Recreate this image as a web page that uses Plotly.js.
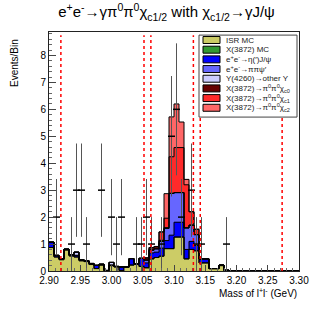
<!DOCTYPE html>
<html>
<head>
<meta charset="utf-8">
<script src="https://cdn.plot.ly/plotly-3.0.1.min.js"></script>
<style>
  body { margin: 0; background: #fff; }
  #plot { width: 333px; height: 320px; }
</style>
</head>
<body>
<div id="plot"></div>
<script>
// binning: 50 bins of 8 MeV from 2.90 to 3.30
var binLo = 2.90;
var binW = 0.008;
var nBins = 50;

// data counts per bin
var dataCounts = [0, 2, 0, 0, 1, 3, 3, 1, 0, 0,
                  3, 0, 2, 1, 2, 0, 0, 1, 1, 2,
                  1, 0, 1, 0, 5, 6, 2, 0, 3, 1,
                  1, 0, 0, 0, 0, 1, 0, 0, 0, 0,
                  0, 0, 0, 0, 0, 0, 0, 0, 0, 0];

// MC components (stacked, bottom to top)
var isrMC = [0.87, 0.52, 0.42, 0.78, 0.56, 0.52, 0.38, 0.35, 0.24, 0.09,
             0.22, 0.02, 0.20, 0.15, 0.02, 0.13, 0.22, 0.25, 0.17, 0.12,
             0.45, 0.50, 0.55, 0.83, 0.83, 1.26, 1.26, 0.45, 0.80, 0.75,
             0.30, 0.30, 0.09, 0.09, 0.20, 0, 0, 0, 0, 0,
             0, 0, 0, 0, 0, 0, 0, 0, 0, 0];
var x3872MC = [0, 0, 0, 0, 0, 0, 0, 0, 0, 0,
               0, 0, 0, 0, 0, 0, 0, 0, 0, 0,
               0, 0, 0, 0, 0, 0, 0, 0, 0, 0,
               0, 0, 0, 0, 0, 0, 0, 0, 0, 0,
               0, 0, 0, 0, 0, 0, 0, 0, 0, 0];
var etaJpsi = [0.20, 0.06, 0.04, 0.03, 0.04, 0.06, 0.04, 0.03, 0.04, 0.12,
               0.03, 0, 0.02, 0.02, 0.13, 0.02, 0.24, 0.02, 0.30, 0.18,
               0.22, 0.20, 0.30, 0.30, 0.50, 0.55, 0.55, 0.35, 0.30, 0.20,
               0.15, 0.15, 0, 0, 0.02, 0.03, 0, 0, 0, 0,
               0, 0, 0, 0, 0, 0, 0, 0, 0, 0];
var pipiPsip = [0, 0, 0, 0, 0, 0, 0, 0, 0, 0,
                0, 0, 0, 0, 0, 0, 0, 0, 0, 0.10,
                0.10, 0.12, 0.25, 0.45, 1.55, 1.10, 1.10, 0.80, 0.60, 0.40,
                0, 0, 0, 0, 0, 0, 0, 0, 0, 0,
                0, 0, 0, 0, 0, 0, 0, 0, 0, 0];
var y4260Other = [0, 0, 0, 0, 0, 0.12, 0, 0, 0, 0,
                  0, 0, 0.10, 0, 0, 0, 0, 0, 0, 0,
                  0, 0, 0, 0, 0, 0, 0, 0, 0, 0,
                  0, 0, 0, 0, 0, 0, 0, 0, 0, 0,
                  0, 0, 0, 0, 0, 0, 0, 0, 0, 0];
var chic0 = [0, 0, 0, 0, 0, 0, 0, 0, 0, 0,
             0, 0, 0, 0, 0, 0, 0, 0, 0, 0.05,
             0.05, 0.04, 0.04, 0.03, 0, 0, 0, 0, 0, 0,
             0, 0, 0, 0, 0, 0, 0, 0, 0, 0,
             0, 0, 0, 0, 0, 0, 0, 0, 0, 0];
var chic1 = [0, 0, 0, 0, 0, 0, 0, 0, 0, 0,
             0, 0, 0, 0, 0, 0, 0, 0, 0, 0.04,
             0.05, 0.05, 0.31, 0.35, 1.36, 1.67, 1.67, 1.60, 0.50, 0.20,
             0, 0, 0, 0, 0, 0, 0, 0, 0, 0,
             0, 0, 0, 0, 0, 0, 0, 0, 0, 0];
var chic2 = [0, 0, 0, 0, 0, 0, 0, 0, 0, 0,
             0, 0, 0, 0, 0, 0, 0, 0, 0, 0,
             0, 0, 0, 0.91, 1.48, 1.62, 0.95, 0.20, 0, 0,
             0, 0, 0, 0, 0, 0, 0, 0, 0, 0,
             0, 0, 0, 0, 0, 0, 0, 0, 0, 0];

var compNames = ['ISR MC', 'X(3872) MC',
  'e<sup>+</sup>e<sup>-</sup>\u2192\u03b7(\u2032)J/\u03c8',
  'e<sup>+</sup>e<sup>-</sup>\u2192\u03c0\u03c0\u03c8\u2032',
  'Y(4260)\u2192other Y',
  'X(3872)\u2192\u03c0<sup>0</sup>\u03c0<sup>0</sup>\u03c7<sub>c0</sub>',
  'X(3872)\u2192\u03c0<sup>0</sup>\u03c0<sup>0</sup>\u03c7<sub>c1</sub>',
  'X(3872)\u2192\u03c0<sup>0</sup>\u03c0<sup>0</sup>\u03c7<sub>c2</sub>'];
var compValues = [isrMC, x3872MC, etaJpsi, pipiPsip, y4260Other, chic0, chic1, chic2];
var compColors = ['#cccc66', '#339933', '#0000ff', '#6666ff', '#ccccff', '#660000', '#ff2a2a', '#ff6666'];

// vertical dotted cut lines (GeV)
var cutLines = [2.919, 3.052, 3.063, 3.131, 3.142, 3.273];
var cutTop = 8.75;

var centers = [], edges = [];
for (var i = 0; i < nBins; i++) centers.push(binLo + binW * (i + 0.5));
for (var i = 0; i <= nBins; i++) edges.push(binLo + binW * i);

var traces = [];
var cum = new Array(nBins).fill(0);
var outlines = [];
compValues.forEach(function (vals, c) {
  traces.push({
    type: 'bar', x: centers, y: vals, width: binW,
    marker: { color: compColors[c], line: { width: 0 } },
    name: compNames[c], hoverinfo: 'skip'
  });
  cum = cum.map(function (v, i) { return v + vals[i]; });
  outlines.push({
    type: 'scatter', mode: 'lines', x: edges, y: cum.concat([cum[nBins - 1]]),
    line: { shape: 'hv', color: '#000', width: 1 }, hoverinfo: 'skip'
  });
});
traces = traces.concat(outlines);

// data points (non-empty bins)
var dx = [], dy = [], de = [];
dataCounts.forEach(function (n, i) {
  if (n > 0) { dx.push(centers[i]); dy.push(n); de.push(Math.sqrt(n)); }
});
traces.push({
  type: 'scatter', mode: 'markers', x: dx, y: dy,
  marker: { symbol: 'line-ew-open', size: 5, color: '#000', line: { width: 1.5, color: '#000' } },
  error_y: { type: 'data', array: de, visible: true, color: '#555', thickness: 1, width: 0 },
  hoverinfo: 'skip'
});

var shapes = cutLines.map(function (m) {
  return { type: 'line', xref: 'x', yref: 'y', x0: m, x1: m, y0: 0, y1: cutTop,
           line: { color: '#ff0000', width: 1.5, dash: 'dot' } };
});

// legend box drawn by hand, ROOT style
var legX0 = 0.60, legX1 = 0.992, legY0 = 0.644, legY1 = 0.987;
var rowTop = 0.9665, rowH = 0.0405;
shapes.push({ type: 'rect', xref: 'paper', yref: 'paper', x0: legX0, x1: legX1, y0: legY0, y1: legY1,
              fillcolor: '#fff', line: { color: '#444', width: 1 }, layer: 'above' });
var annotations = [];
compNames.forEach(function (nm, c) {
  var yc = rowTop - c * rowH;
  shapes.push({ type: 'rect', xref: 'paper', yref: 'paper', x0: 0.616, x1: 0.684, y0: yc - 0.0146, y1: yc + 0.0146,
                fillcolor: compColors[c], line: { color: '#000', width: 1 }, layer: 'above' });
  annotations.push({ xref: 'paper', yref: 'paper', x: 0.70, y: yc, xanchor: 'left', yanchor: 'middle',
                     text: nm, showarrow: false, font: { size: 8, color: '#222' } });
});
annotations.push({ xref: 'paper', yref: 'paper', x: -0.14, y: 0.979, xanchor: 'center', yanchor: 'top',
                   text: 'Events/Bin', textangle: -90, showarrow: false, font: { size: 10, color: '#000' } });
annotations.push({ xref: 'paper', yref: 'paper', x: 1.0, y: -0.092, xanchor: 'right', yanchor: 'middle',
                   text: 'Mass of l<sup>+</sup>l<sup>-</sup> (GeV)', showarrow: false, font: { size: 10, color: '#000' } });

var layout = {
  width: 333, height: 320,
  margin: { l: 49, r: 34, t: 32, b: 49 },
  paper_bgcolor: '#fff', plot_bgcolor: '#fff',
  font: { family: 'Liberation Sans, Arial, sans-serif', color: '#000' },
  title: { text: 'e<sup>+</sup>e<sup>-</sup>\u2192\u03b3\u03c0<sup>0</sup>\u03c0<sup>0</sup>\u03c7<sub>c1/2</sub> with \u03c7<sub>c1/2</sub>\u2192\u03b3J/\u03c8',
           font: { size: 15, color: '#000' }, x: 0.5, xanchor: 'center', y: 0.962, yanchor: 'middle' },
  barmode: 'stack', bargap: 0, showlegend: false,
  xaxis: {
    range: [2.9, 3.3], dtick: 0.05, tick0: 2.9, tickformat: '.2f',
    ticks: 'inside', ticklen: 6, tickcolor: '#444', showgrid: false, zeroline: false,
    showline: true, linecolor: '#222', mirror: true, tickfont: { size: 10 },
    minor: { dtick: 0.01, ticks: 'inside', ticklen: 3, tickcolor: '#666' }
  },
  yaxis: {
    range: [0, 8.87], dtick: 1, tick0: 0,
    ticks: 'inside', ticklen: 7, tickcolor: '#444', showgrid: false, zeroline: false,
    showline: true, linecolor: '#222', mirror: true, tickfont: { size: 10 },
    minor: { dtick: 0.2, ticks: 'inside', ticklen: 3, tickcolor: '#666' }
  },
  shapes: shapes,
  annotations: annotations
};

Plotly.newPlot('plot', traces, layout, { staticPlot: true, displayModeBar: false });
</script>
</body>
</html>
